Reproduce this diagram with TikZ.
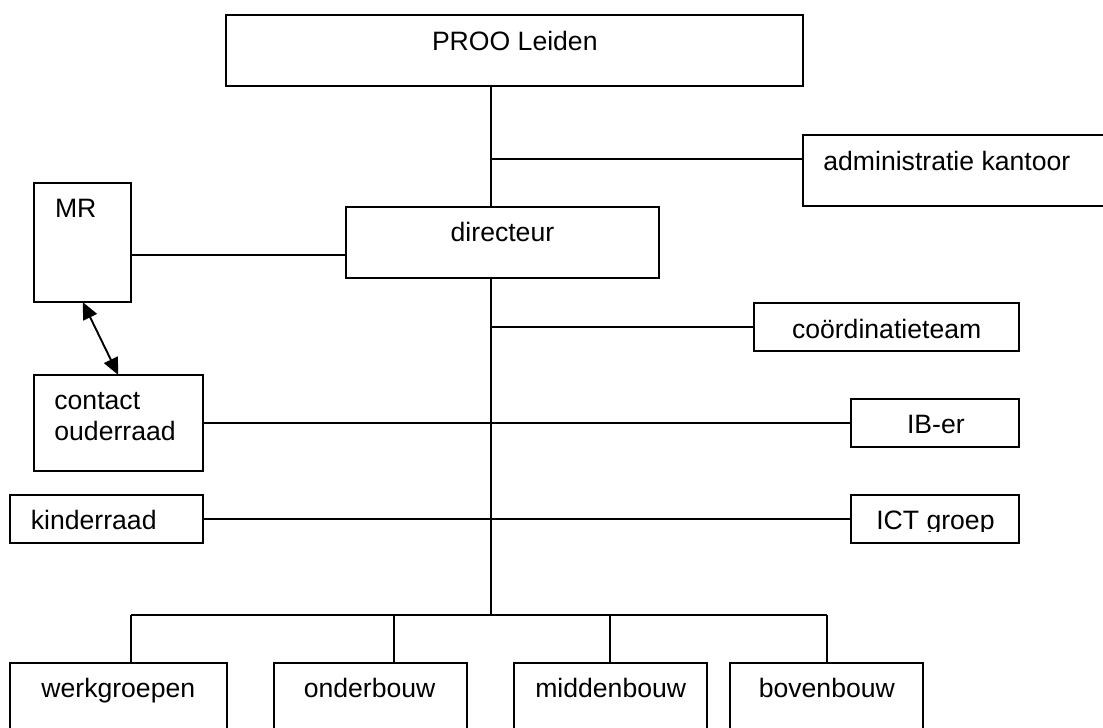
\documentclass[tikz,border=0pt]{standalone}
\usepackage{fontspec}
\setmainfont{Liberation Sans}
\usetikzlibrary{arrows.meta}
\tikzset{
  orgbox/.style={draw=black,line width=1.9pt,rectangle,outer sep=0pt,inner sep=0pt},
  orgtext/.style={anchor=base west,inner sep=0pt,outer sep=0pt,text=black,font=\fontsize{26.6}{32}\selectfont},
  orgline/.style={draw=black,line width=1.9pt},
  twoway/.style={orgline,{Triangle[length=17pt,width=15pt]}-{Triangle[length=17pt,width=15pt]}}
}
\newcommand{\orgrect}[5]{%
  \pgfmathsetmacro{\bw}{#4-#2}\pgfmathsetmacro{\bh}{#5-#3}%
  \node[orgbox,minimum width=\bw pt,minimum height=\bh pt] (#1) at ({(#2+#4)/2},{(#3+#5)/2}) {};}
\begin{document}
\begin{tikzpicture}[x=1pt,y=-1pt]
\useasboundingbox (0,0) rectangle (1103,728);
\clip (0,0) rectangle (1103,728);
% boxes
\orgrect{proo}{226}{15}{803}{86}
\orgrect{admin}{803}{135}{1125}{206}
\orgrect{dir}{346}{207}{659}{278}
\orgrect{mr}{34}{183}{131}{302}
\orgrect{contact}{34}{375}{203}{471}
\orgrect{kinder}{10}{495}{203}{543}
\orgrect{coord}{754}{303}{1019}{351}
\orgrect{ib}{851}{399}{1019}{447}
\orgrect{ict}{851}{495}{1019}{543}
\orgrect{werk}{10}{663}{227}{750}
\orgrect{onder}{274}{663}{467}{750}
\orgrect{midden}{514}{663}{707}{750}
\orgrect{boven}{730}{663}{923}{750}
% texts
\node[orgtext] (tproo) at (432,50) {PROO Leiden};
\node[orgtext] (tadmin) at (823.4,170) {administratie kantoor};
\node[orgtext] (tdir) at (450.7,241.7) {directeur};
\node[orgtext] (tmr) at (55,217.7) {MR};
\node[orgtext] (tcontact) at (54.4,409.7) {contact};
\node[orgtext] (touder) at (54.4,440.7) {ouderraad};
\node[orgtext] (tkinder) at (30.9,529.7) {kinderraad};
\node[orgtext] (tcoord) at (792,338) {coördinatieteam};
\node[orgtext] (tib) at (907,433) {IB-er};
\begin{scope}
\clip (860,500) rectangle (1010,531);
\node[orgtext] (tict) at (876.3,529.7) {ICT groep};
\end{scope}
\node[orgtext] (twerk) at (41.4,697) {werkgroepen};
\node[orgtext] (tonder) at (303.8,697) {onderbouw};
\node[orgtext] (tmidden) at (535.3,697) {middenbouw};
\node[orgtext] (tboven) at (758.8,697) {bovenbouw};
% junction coordinates
\coordinate (trunk) at (491,159);
\coordinate (mrline) at (230,255);
\coordinate (bus) at (491,615);
\coordinate (dropw) at (131,0);
\coordinate (dropo) at (394,0);
\coordinate (dropm) at (610,0);
\coordinate (dropb) at (827,0);
\coordinate (arrtop) at (82.7,0);
\coordinate (arrbot) at (118.3,0);
% connectors
\draw[orgline] (trunk |- proo.south) -- (trunk |- dir.north);
\draw[orgline] (trunk) -- (admin.west |- trunk);
\draw[orgline] (mr.east |- mrline) -- (dir.west |- mrline);
\draw[orgline] (trunk |- dir.south) -- (bus);
\draw[orgline] (trunk |- coord.west) -- (coord.west);
\draw[orgline] (contact.east) -- (ib.west);
\draw[orgline] (kinder.east) -- (ict.west);
\draw[orgline] (dropw |- bus) -- (dropb |- bus);
\draw[orgline] (dropw |- bus) -- (dropw |- werk.north);
\draw[orgline] (dropo |- bus) -- (dropo |- onder.north);
\draw[orgline] (dropm |- bus) -- (dropm |- midden.north);
\draw[orgline] (dropb |- bus) -- (dropb |- boven.north);
\draw[twoway] (arrtop |- mr.south) -- (arrbot |- contact.north);
\end{tikzpicture}
\end{document}
